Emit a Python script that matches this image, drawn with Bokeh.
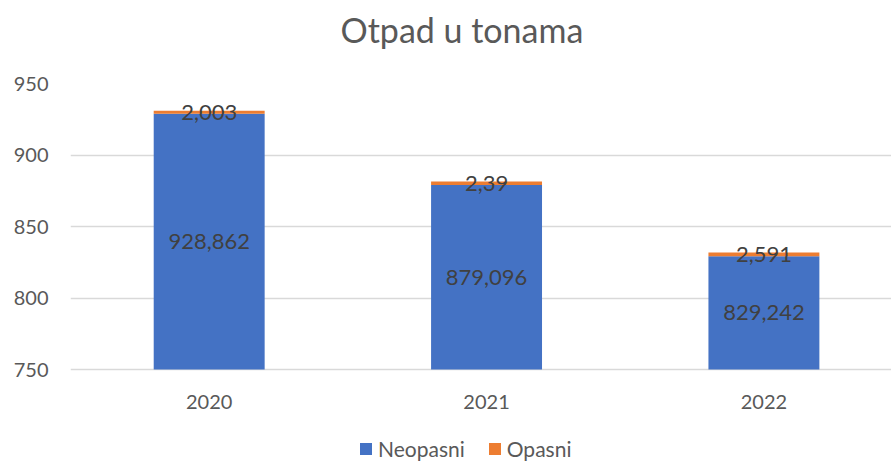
from bokeh.plotting import figure
from bokeh.models import ColumnDataSource, Legend, LegendItem, Range1d, FixedTicker, Title
from bokeh.core.properties import value
from bokeh.embed import file_html
from bokeh.resources import INLINE

years = ["2020", "2021", "2022"]
neopasni = [928.862, 879.096, 829.242]
opasni = [2.003, 2.39, 2.591]
y_ticks = [750, 800, 850, 900, 950]

YMIN, YMAX = 750, 950
FONT = "Lato"
GREY = "#595959"
PLOT_H = 286      # pixel height of the 750..950 band
EXTRA_H = 92      # pixels of space below the band for category labels + legend

def fmt(v):
    return ("%g" % v).replace(".", ",")

xpos = [i + 0.5 for i in range(len(years))]

src = ColumnDataSource(dict(
    x=xpos,
    year=years,
    base=[YMIN] * len(years),
    neopasni=neopasni,
    total=[n + o for n, o in zip(neopasni, opasni)],
    neo_lbl=[fmt(v) for v in neopasni],
    opa_lbl=[fmt(v) for v in opasni],
    neo_y=[(YMIN + v) / 2 for v in neopasni],
    opa_y=[n + o / 2 for n, o in zip(neopasni, opasni)],
))

ystart = YMIN - EXTRA_H * (YMAX - YMIN) / PLOT_H
p = figure(x_range=Range1d(0, 2.96), y_range=Range1d(ystart, YMAX),
           output_backend="svg", toolbar_location=None,
           min_border_left=70, min_border_right=0, min_border_top=83, min_border_bottom=0)
p.frame_height = PLOT_H + EXTRA_H
p.frame_width = 821
p.outline_line_color = None
p.background_fill_color = "white"
p.border_fill_color = "white"

p.title = Title(text="Otpad u tonama", align="left", text_font=FONT,
                text_font_size="34px", text_color=GREY, text_font_style="normal",
                offset=270)
# spacer between frame and title
p.add_layout(Title(text=" ", text_font_size="16px"), "above")

r1 = p.vbar(x="x", bottom="base", top="neopasni", width=0.4, source=src,
            color="#4472C4", line_color=None)
r2 = p.vbar(x="x", bottom="neopasni", top="total", width=0.4, source=src,
            color="#ED7D31", line_color=None)

p.text(x="x", y="neo_y", text="neo_lbl", source=src, text_align="center",
       text_baseline="middle", text_font=value(FONT), text_font_size="22px", text_color="#404040")
p.text(x="x", y="opa_y", text="opa_lbl", source=src, text_align="center",
       text_baseline="middle", text_font=value(FONT), text_font_size="22px", text_color="#404040")
# category labels
p.text(x="x", y="base", text="year", source=src, text_align="center", y_offset=32,
       text_baseline="middle", text_font=value(FONT), text_font_size="20px", text_color=GREY)

p.xaxis.visible = False
p.xgrid.grid_line_color = None
p.ygrid.grid_line_color = "#D9D9D9"
p.ygrid.grid_line_width = 1.5
p.yaxis.ticker = FixedTicker(ticks=y_ticks)

ax = p.yaxis[0]
ax.axis_line_color = None
ax.major_tick_line_color = None
ax.minor_tick_line_color = None
ax.major_tick_out = 0
ax.major_tick_in = 0
ax.major_label_text_font = FONT
ax.major_label_text_font_size = "20px"
ax.major_label_text_color = GREY
ax.major_label_standoff = 22

legend = Legend(items=[LegendItem(label="Neopasni", renderers=[r1]),
                       LegendItem(label="Opasni", renderers=[r2])],
                orientation="horizontal", location=(288, 0),
                label_text_font=FONT, label_text_font_size="21px", label_text_color=GREY,
                glyph_width=15, glyph_height=15, spacing=22, label_standoff=5,
                border_line_color=None, background_fill_alpha=0, padding=0, margin=0)
p.add_layout(legend)

open("out.html", "w").write(file_html(p, INLINE))
